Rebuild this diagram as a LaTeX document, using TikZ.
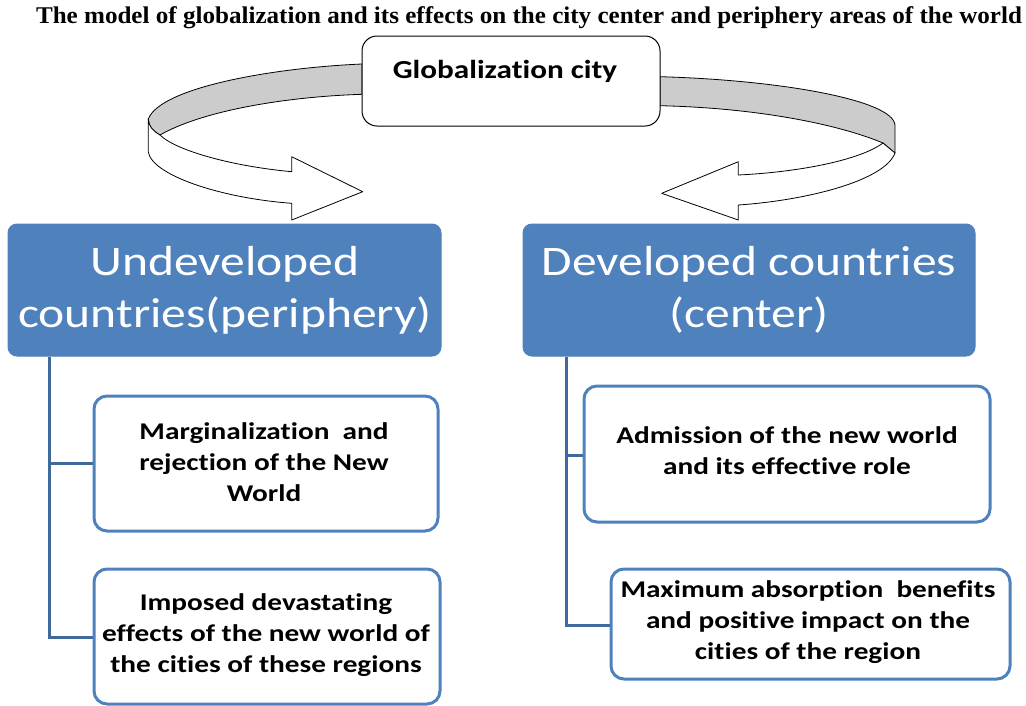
\documentclass[tikz,border=0pt]{standalone}
\usepackage{fontspec}
\setmainfont[FakeStretch=1.045]{Liberation Serif}
\newfontfamily\calhead[FakeStretch=1.18,Ligatures=NoCommon]{Carlito}
\newfontfamily\calitem[FakeStretch=1.22,Ligatures=NoCommon]{Carlito}
\newfontfamily\calglob[FakeStretch=1.2,Ligatures=NoCommon]{Carlito}
\definecolor{blueFill}{HTML}{4F81BD}
\definecolor{lineBlue}{HTML}{40699C}
\definecolor{ribGray}{HTML}{CCCCCC}
\begin{document}
\begin{tikzpicture}[x=1pt,y=-1pt,
  ribbon/.style={draw=black, line width=0.8pt, line join=round},
  headbox/.style={rounded corners=9pt, fill=blueFill, draw=blueFill, line width=1pt},
  itembox/.style={rounded corners=13pt, draw=blueFill, line width=3pt, fill=white},
  tree/.style={draw=lineBlue, line width=3pt},
  headtxt/.style={text=white, font=\calhead\fontsize{42}{52}\selectfont, align=center},
  itemtxt/.style={text=black, font=\calitem\bfseries\fontsize{24}{31}\selectfont, align=center}
]
\useasboundingbox (0,0) rectangle (1026,705);
% title
\node[font=\bfseries\fontsize{24}{28}\selectfont] (title) at (529,18) {The model of globalization and its effects on the city center and periphery areas of the world};
% left ribbon
\filldraw[ribbon, fill=ribGray] (362,64) .. controls (270,68) and (160,88) .. (148.3,119) .. controls (148.3,126) and (153,131) .. (160,135) .. controls (200,112) and (280,97) .. (362,94.3) -- cycle;
\filldraw[ribbon, fill=white] (148.3,119) -- (148.3,152) .. controls (152,175) and (220,198) .. (291.7,203.3) -- (291.7,220) -- (362.7,191.7) -- (291.7,156.7) -- (291.7,171.7) .. controls (230,166) and (175,150) .. (160,135) .. controls (153,131) and (148.3,126) .. (148.3,119) -- cycle;
% right ribbon
\filldraw[ribbon, fill=ribGray] (660,76.7) .. controls (780,80) and (893,100) .. (895,125) -- (895,153) -- (883,143) .. controls (840,125) and (760,108) .. (660,105.7) -- cycle;
\filldraw[ribbon, fill=white] (883,143) -- (895,153) .. controls (885,180) and (810,200) .. (738.3,205) -- (738.3,220) -- (661.7,193.3) -- (738.3,161.7) -- (738.3,175) .. controls (800,172) and (860,160) .. (883,143) -- cycle;
% globalization box
\draw[rounded corners=15pt, draw=black, line width=1pt, fill=white] (362,36) rectangle (660,126);
\node[font=\calglob\bfseries\fontsize{26}{30}\selectfont] (glob) at (505,71) {Globalization city};
% head boxes
\draw[headbox] (8,224) rectangle (441,356);
\node[headtxt] (undev) at (225,290) {Undeveloped\\countries(periphery)};
\draw[headbox] (523,224) rectangle (975,356);
\node[headtxt] (dev) at (749,290) {Developed countries\\(center)};
% tree lines
\coordinate (lt) at (49,357);
\coordinate (lb1) at (49,463);
\coordinate (lb2) at (49,637);
\draw[tree] (lt) -- (lb2) -- (94,637);
\draw[tree] (lb1) -- (94,463);
\coordinate (rt) at (566,357);
\coordinate (rb1) at (566,455);
\coordinate (rb2) at (566,625);
\draw[tree] (rt) -- (rb2) -- (611,625);
\draw[tree] (rb1) -- (584,455);
% item boxes
\draw[itembox] (94,396) rectangle (438,531);
\node[itemtxt] (i1) at (264,462) {Marginalization~ and\\rejection of the New\\World};
\draw[itembox] (94,569) rectangle (440,704);
\node[itemtxt] (i2) at (266,635) {Imposed devastating\\effects of the new world of\\the cities of these regions};
\draw[itembox] (584,386) rectangle (990,522);
\node[itemtxt] (i3) at (787,451) {Admission of the new world\\and its effective role};
\draw[itembox] (611,569) rectangle (1010,679);
\node[itemtxt] (i4) at (808,622) {Maximum absorption~ benefits\\and positive impact on the\\cities of the region};
\end{tikzpicture}
\end{document}
